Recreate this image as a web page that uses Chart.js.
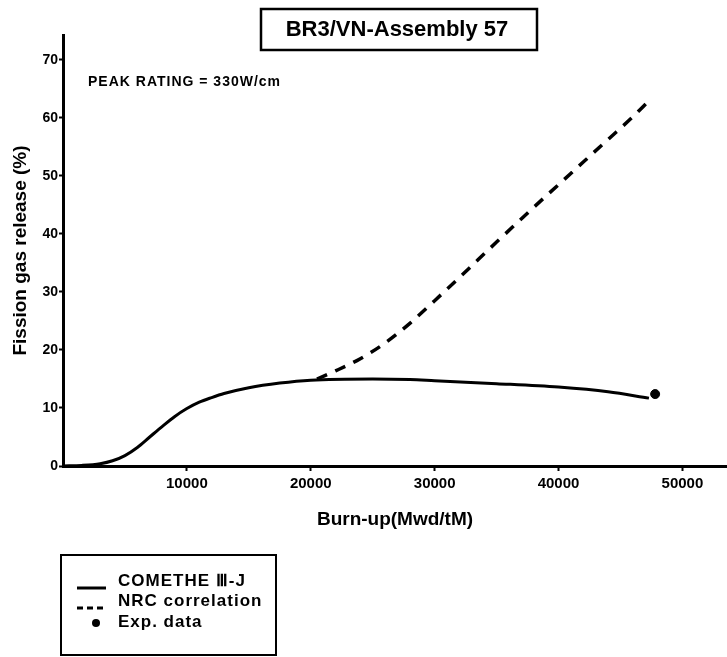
<!DOCTYPE html>
<html>
<head>
<meta charset="utf-8">
<script src="https://cdn.jsdelivr.net/npm/chart.js@4"></script>
<style>
  html, body { margin: 0; padding: 0; background: #fff; }
  #chart { display: block; }
</style>
</head>
<body>
<canvas id="chart" width="727" height="657"></canvas>
<script>
// COMETHE III-J prediction
const comethBurnup = [0, 1500, 3000, 4000, 5000, 6000, 7000, 8000, 9000, 10000, 11000, 12000, 13000, 15000, 17500, 20000, 25000, 28000, 30000, 35000, 40000, 44000, 47300];
const comethRelease = [0, 0.1, 0.4, 0.9, 1.8, 3.2, 5.0, 6.8, 8.5, 9.9, 11.0, 11.8, 12.5, 13.5, 14.3, 14.8, 15.0, 14.9, 14.7, 14.2, 13.6, 12.8, 11.7];

// NRC correlation
const nrcBurnup = [20500, 22000, 24000, 26000, 28000, 30000, 32000, 35000, 38000, 40000, 42000, 44000, 46000, 47500];
const nrcRelease = [15.0, 16.4, 18.5, 21.2, 24.6, 28.5, 32.5, 38.6, 44.6, 48.5, 52.4, 56.3, 60.2, 63.4];

// measured value
const expBurnup = [47800];
const expRelease = [12.4];

const xTickValues = [10000, 20000, 30000, 40000, 50000];
const yTickValues = [0, 10, 20, 30, 40, 50, 60, 70];

const chartTitle = 'BR3/VN-Assembly 57';
const ratingNote = 'PEAK RATING = 330W/cm';

const FONT = "'Liberation Sans', Arial, sans-serif";

function toPoints(xs, ys) {
    return xs.map((x, i) => ({ x: x, y: ys[i] }));
}

// title box, rating note and framed legend
const annotations = {
    id: 'annotations',
    afterDraw(chart) {
        const ctx = chart.ctx;
        ctx.save();
        ctx.fillStyle = '#000';
        ctx.strokeStyle = '#000';

        // title in a box
        ctx.lineWidth = 2.5;
        ctx.strokeRect(261, 9, 276, 41);
        ctx.font = 'bold 22px ' + FONT;
        ctx.textAlign = 'center';
        ctx.textBaseline = 'middle';
        ctx.fillText(chartTitle, 397, 30);

        ctx.font = 'bold 14px ' + FONT;
        ctx.letterSpacing = '1px';
        ctx.textAlign = 'left';
        ctx.fillText(ratingNote, 88, 82);

        // legend
        ctx.lineWidth = 2;
        ctx.strokeRect(61, 555, 215, 100);
        ctx.font = 'bold 17px ' + FONT;
        const rows = [581, 601, 622];
        chart.data.datasets.forEach((ds, i) => {
            const y = rows[i];
            ctx.fillText(ds.label, 118, y);
            if (ds.showLine === false) {
                ctx.beginPath();
                ctx.arc(96, y + 1, 4, 0, Math.PI * 2);
                ctx.fill();
            } else {
                ctx.beginPath();
                ctx.lineWidth = 3;
                ctx.setLineDash(ds.borderDash && ds.borderDash.length ? [6, 4] : []);
                ctx.moveTo(77, y + 7);
                ctx.lineTo(106, y + 7);
                ctx.stroke();
                ctx.setLineDash([]);
            }
        });
        ctx.restore();
    }
};

const ctx = document.getElementById('chart').getContext('2d');

new Chart(ctx, {
    type: 'line',
    data: {
        datasets: [
            {
                label: 'COMETHE Ⅲ-J',
                data: toPoints(comethBurnup, comethRelease),
                borderColor: '#000',
                borderWidth: 3,
                pointRadius: 0,
                cubicInterpolationMode: 'monotone',
                fill: false
            },
            {
                label: 'NRC correlation',
                data: toPoints(nrcBurnup, nrcRelease),
                borderColor: '#000',
                borderWidth: 3.5,
                borderDash: [11, 9],
                pointRadius: 0,
                cubicInterpolationMode: 'monotone',
                fill: false
            },
            {
                label: 'Exp. data',
                data: toPoints(expBurnup, expRelease),
                showLine: false,
                pointRadius: 4.5,
                pointBackgroundColor: '#000',
                pointBorderColor: '#000'
            }
        ]
    },
    options: {
        responsive: false,
        animation: false,
        layout: { autoPadding: false, padding: { top: 35, right: 0, left: 0, bottom: 0 } },
        plugins: {
            legend: { display: false },
            tooltip: { enabled: false }
        },
        scales: {
            x: {
                type: 'linear',
                min: 0,
                max: 53600,
                afterFit: (scale) => {
                    scale.height = 191;
                    scale.paddingLeft = 0;
                    scale.paddingRight = 0;
                },
                afterBuildTicks: (scale) => { scale.ticks = xTickValues.map(v => ({ value: v })); },
                border: { color: '#000', width: 3 },
                grid: { drawOnChartArea: false, tickLength: 5, tickWidth: 2, tickColor: '#000' },
                ticks: {
                    color: '#000',
                    padding: 4,
                    maxRotation: 0,
                    font: { family: FONT, size: 15, weight: 'bold' },
                    callback: (v) => String(v)
                },
                title: {
                    display: true,
                    text: 'Burn-up(Mwd/tM)',
                    color: '#000',
                    font: { family: FONT, size: 19, weight: 'bold' },
                    padding: { top: 0, bottom: 126 }
                }
            },
            y: {
                type: 'linear',
                min: 0,
                max: 74.3,
                afterFit: (scale) => { scale.width = 63; },
                afterBuildTicks: (scale) => { scale.ticks = yTickValues.map(v => ({ value: v })); },
                border: { color: '#000', width: 3 },
                grid: { drawOnChartArea: false, tickLength: 4, tickWidth: 2, tickColor: '#000' },
                ticks: {
                    color: '#000',
                    padding: 1,
                    font: { family: FONT, size: 14, weight: 'bold' }
                },
                title: {
                    display: true,
                    text: 'Fission gas release (%)',
                    color: '#000',
                    font: { family: FONT, size: 19, weight: 'bold' },
                    padding: { top: 9, bottom: 0 }
                }
            }
        }
    },
    plugins: [annotations]
});
</script>
</body>
</html>
